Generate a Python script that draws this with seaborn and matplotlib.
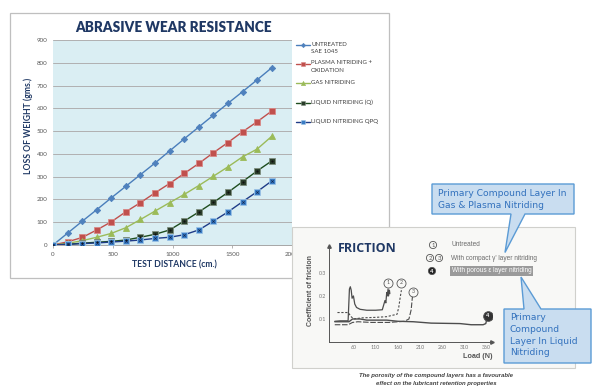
import matplotlib
matplotlib.use("Agg")
import matplotlib.pyplot as plt
import seaborn as sns
import numpy as np
from matplotlib.patches import Rectangle, Polygon, Circle
from matplotlib.lines import Line2D

# ---------------- data: abrasive wear ----------------
distance = [0, 122, 244, 366, 488, 610, 732, 854, 976, 1098, 1220, 1342, 1464, 1586, 1708, 1830]
untreated = [0, 52, 104, 155, 207, 258, 309, 360, 413, 466, 518, 570, 622, 673, 725, 778]
plasma = [0, 14, 33, 66, 102, 146, 186, 229, 270, 314, 358, 405, 450, 497, 541, 588]
gas = [0, 7, 19, 34, 51, 76, 112, 149, 186, 222, 261, 302, 343, 387, 421, 477]
liquid_q = [0, 3, 8, 12, 16, 22, 34, 47, 66, 105, 145, 187, 231, 278, 325, 369]
liquid_qpq = [0, 3, 6, 9, 13, 17, 22, 29, 34, 45, 66, 105, 145, 190, 234, 281]

series_names = ["UNTREATED\nSAE 1045", "PLASMA NITRIDING +\nOXIDATION", "GAS NITRIDING",
                "LIQUID NITRIDING (Q)", "LIQUID NITRIDING QPQ"]
x_ticks = [0, 500, 1000, 1500, 2000]
y_ticks = [0, 100, 200, 300, 400, 500, 600, 700, 800, 900]

# ---------------- data: friction inset ----------------
f_load_1 = [18, 30, 48, 51, 53, 55, 57, 60, 63, 67, 75, 90, 110, 125, 128, 131, 133, 135, 136, 138, 139, 141, 142]
f_mu_1 = [0.09, 0.092, 0.092, 0.23, 0.24, 0.225, 0.19, 0.2, 0.165, 0.15, 0.142, 0.138, 0.138, 0.14, 0.16, 0.18, 0.17, 0.215, 0.2, 0.23, 0.2, 0.225, 0.21]
f_load_2 = [24, 48, 55, 60, 80, 110, 135, 150, 158, 162, 165, 168]
f_mu_2 = [0.128, 0.128, 0.11, 0.1, 0.105, 0.107, 0.11, 0.117, 0.12, 0.15, 0.19, 0.225]
f_load_3 = [18, 48, 58, 70, 100, 140, 175, 185, 190, 193]
f_mu_3 = [0.075, 0.075, 0.085, 0.088, 0.085, 0.085, 0.09, 0.1, 0.14, 0.2]
f_load_4 = [18, 50, 58, 75, 90, 135, 160, 195, 235, 300, 325, 352, 358, 361]
f_mu_4 = [0.088, 0.088, 0.1, 0.1, 0.095, 0.095, 0.09, 0.088, 0.082, 0.08, 0.075, 0.075, 0.08, 0.105]
f_xticks = [60, 110, 160, 210, 260, 310, 360]
f_yticks = [0.1, 0.2, 0.3]

# ---------------- style ----------------
sns.set_style("white")
plt.rcParams['font.family'] = ['Lato', 'DejaVu Sans']

W, H = 599, 391
fig = plt.figure(figsize=(W / 100, H / 100), dpi=100)
fig.patch.set_facecolor("white")


def fr(x0, y0, x1, y1):
    """pixel box -> figure fraction rect"""
    return [x0 / W, 1 - y1 / H, (x1 - x0) / W, (y1 - y0) / H]


def overlay(z):
    o = fig.add_axes([0, 0, 1, 1], zorder=z)
    o.set_xlim(0, W)
    o.set_ylim(H, 0)
    o.axis("off")
    o.patch.set_visible(False)
    return o


navy = "#1F3864"
bg = overlay(0)
# chart frame
bg.add_patch(Rectangle((10, 13), 379, 265, fill=False, edgecolor="#BFBFBF", lw=0.9))
bg.text(173, 28, "ABRASIVE WEAR RESISTANCE", ha="center", va="center",
        fontsize=9.8, fontweight="heavy", color=navy)

# ---------------- main plot ----------------
ax = fig.add_axes(fr(53, 40, 292, 245), zorder=1)
ax.set_facecolor("#DAEEF3")
styles = [
    dict(color="#4A7EBB", marker="D", ms=3.2, mfc="#4F81BD", mec="#4F81BD"),
    dict(color="#C0504D", marker="s", ms=4.2, mfc="#C0504D", mec="#D98886"),
    dict(color="#9BBB59", marker="^", ms=4.4, mfc="#9BBB59", mec="#9BBB59"),
    dict(color="#1E4D1E", marker="s", ms=4.4, mfc="#2A3D2A", mec="#7F8F7F"),
    dict(color="#1F3C88", marker="s", ms=4.4, mfc="#3A7CC4", mec="#9CC3E6"),
]
values = [untreated, plasma, gas, liquid_q, liquid_qpq]
for vals, st in zip(values, styles):
    sns.lineplot(x=distance, y=vals, ax=ax, color=st["color"], lw=1.0,
                 marker=st["marker"], markersize=st["ms"], markerfacecolor=st["mfc"],
                 markeredgecolor=st["mec"], markeredgewidth=0.6, zorder=3)
# center marks on the square markers
sns.scatterplot(x=distance, y=liquid_q, ax=ax, marker="o", s=2.5, color="#111111", linewidth=0, zorder=4)
sns.scatterplot(x=distance, y=liquid_qpq, ax=ax, marker="x", s=3, color="#10254F", linewidth=0.5, zorder=4)

ax.set_xlim(0, 2000)
ax.set_ylim(0, 900)
ax.set_xticks(x_ticks)
ax.set_yticks(y_ticks)
ax.set_xticklabels([str(v) for v in x_ticks])
ax.set_yticklabels([str(v) for v in y_ticks])
ax.yaxis.grid(True, color="#B0B0B0", lw=0.7)
ax.xaxis.grid(False)
ax.set_axisbelow(True)
for s in ["top", "right", "left"]:
    ax.spines[s].set_visible(False)
ax.spines["bottom"].set_color("#A6A6A6")
ax.spines["bottom"].set_linewidth(0.7)
ax.tick_params(axis="y", length=0, pad=4, labelsize=4.5, labelcolor="#595959")
ax.tick_params(axis="x", length=2.5, width=0.6, color="#A6A6A6", pad=2.5, labelsize=4.5,
               labelcolor="#595959", direction="out", bottom=True)
ax.set_xlabel("")
ax.set_ylabel("")

bg.text(174, 265, "TEST DISTANCE (cm.)", ha="center", va="center", fontsize=6.2,
        fontweight="bold", color=navy)
bg.text(28, 126, "LOSS OF WEIGHT (gms.)", ha="center", va="center", rotation=90,
        fontsize=6.2, fontweight="bold", color=navy)

# legend
leg_y = [45, 64, 83, 103, 122]
for yy, name, st in zip(leg_y, series_names, styles):
    bg.add_line(Line2D([296, 310], [yy, yy], color=st["color"], lw=1.0))
    bg.plot([303], [yy], marker=st["marker"], ms=st["ms"] * 0.7, mfc=st["mfc"], mec=st["mec"], mew=0.4)
    bg.text(311, yy - 3.5, name, ha="left", va="top", fontsize=4.4, color="#404040", linespacing=1.55)

# ---------------- friction inset ----------------
pan = overlay(2)
pan.add_patch(Rectangle((292, 227), 283, 141, facecolor="#F8F8F6", edgecolor="#D0D0CC", lw=0.8))
gray = "#4D4D4D"
pan.text(367, 248, "FRICTION", ha="center", va="center", fontsize=9, fontweight="bold", color=navy,
         family=["Open Sans", "DejaVu Sans"])


def circ_num(o, x, y, label, filled=False, r=3.6):
    o.add_patch(Circle((x, y), r, facecolor=("#222222" if filled else "none"),
                       edgecolor="#555555", lw=0.6))
    o.text(x, y + 0.2, label, ha="center", va="center", fontsize=4.2,
           color=("white" if filled else "#555555"), fontweight=("bold" if filled else "normal"))


circ_num(pan, 433, 245, "1")
circ_num(pan, 430, 258, "2")
circ_num(pan, 439, 258, "3")
circ_num(pan, 432, 271, "4", filled=True)
ftxt = dict(fontsize=4.7, color="#6A6A6A", va="center", ha="left", family=["Liberation Sans", "DejaVu Sans"])
pan.text(451, 245, "Untreated", **ftxt)
pan.text(451, 258, "With compact \u03b3' layer nitriding", **ftxt)
pan.add_patch(Rectangle((450, 266), 83, 10, facecolor="#9A9A9A", edgecolor="none"))
pan.text(452, 271, "With porous \u03b5 layer nitriding", fontsize=4.7, color="white", va="center",
         ha="left", family=["Liberation Sans", "DejaVu Sans"])
pan.text(436, 376, "The porosity of the compound layers has a favourable", ha="center", va="center",
         fontsize=4.3, style="italic", fontweight="bold", color="#404040",
         family=["Liberation Sans", "DejaVu Sans"])
pan.text(436, 383.5, "effect on the lubricant retention properties", ha="center", va="center",
         fontsize=4.3, style="italic", fontweight="bold", color="#404040",
         family=["Liberation Sans", "DejaVu Sans"])
pan.text(310, 290, "Coefficient of friction", rotation=90, ha="center", va="center", fontsize=5,
         fontweight="bold", color="#555555", family=["Liberation Sans", "DejaVu Sans"])
pan.text(478, 357, "Load (N)", ha="center", va="center", fontsize=5.2, fontweight="bold",
         color="#555555", family=["Liberation Sans", "DejaVu Sans"])

fax = fig.add_axes(fr(329, 246, 492, 342), zorder=3)
fax.patch.set_visible(False)
sns.lineplot(x=f_load_1, y=f_mu_1, ax=fax, color=gray, lw=0.9, sort=False)
sns.lineplot(x=f_load_2, y=f_mu_2, ax=fax, color=gray, lw=0.8, sort=False, linestyle=(0, (2, 1.5)))
sns.lineplot(x=f_load_3, y=f_mu_3, ax=fax, color=gray, lw=0.8, sort=False, linestyle=(0, (5, 1.5)))
sns.lineplot(x=f_load_4, y=f_mu_4, ax=fax, color=gray, lw=1.0, sort=False)
fax.set_xlim(5, 372)
fax.set_ylim(0, 0.417)
fax.set_xticks(f_xticks)
fax.set_xticklabels([str(v) for v in f_xticks])
fax.set_xticks([85, 135, 185, 235, 285, 335], minor=True)
fax.set_yticks(f_yticks)
fax.set_yticklabels(["0.1", "0.2", "0.3"])
for s in ["top", "right"]:
    fax.spines[s].set_visible(False)
for s in ["left", "bottom"]:
    fax.spines[s].set_color("#555555")
    fax.spines[s].set_linewidth(0.7)
fax.tick_params(axis="both", which="both", direction="in", length=2, width=0.5, color="#555555",
                labelsize=3.8, labelcolor="#777777", pad=2)
fax.set_xlabel("")
fax.set_ylabel("")
fax.plot([372], [0], marker=">", ms=2.5, color="#555555", clip_on=False)
fax.plot([5], [0.417], marker="^", ms=2.5, color="#555555", clip_on=False)
# curve labels
for (xx, yy, lab) in [(138, 0.258, "1"), (167, 0.258, "2"), (195, 0.219, "3")]:
    fax.plot([xx], [yy], marker="o", ms=6.5, mfc="#F8F8F6", mec="#555555", mew=0.6)
    fax.text(xx, yy, lab, ha="center", va="center", fontsize=3.8, color="#555555")
fax.plot([362], [0.114], marker="o", ms=7, mfc="#333333", mec="#555555", mew=0.6)
fax.text(362, 0.114, "4", ha="center", va="center", fontsize=4, color="white", fontweight="bold")

# ---------------- callouts ----------------
co = overlay(5)
cfill, cedge, ctext = "#C9DDF0", "#5B9BD5", "#3271BD"
co.add_patch(Polygon([(432, 184), (574, 184), (574, 214), (525, 214), (505, 252.5), (511, 214), (432, 214)],
                     closed=True, facecolor=cfill, edgecolor=cedge, lw=1.0))
co.text(438, 193, "Primary Compound Layer In", ha="left", va="center", fontsize=6.6, color=ctext,
        family=["DejaVu Sans"])
co.text(438, 205, "Gas & Plasma Nitriding", ha="left", va="center", fontsize=6.6, color=ctext,
        family=["DejaVu Sans"])
co.add_patch(Polygon([(504, 309), (524, 309), (521, 277), (541, 309), (591, 309), (591, 363), (504, 363)],
                     closed=True, facecolor=cfill, edgecolor=cedge, lw=1.0))
for i, line in enumerate(["Primary", "Compound", "Layer In Liquid", "Nitriding"]):
    co.text(510, 318 + i * 11.6, line, ha="left", va="center", fontsize=6.6, color=ctext,
            family=["DejaVu Sans"])

fig.savefig("out.png", dpi=100)
